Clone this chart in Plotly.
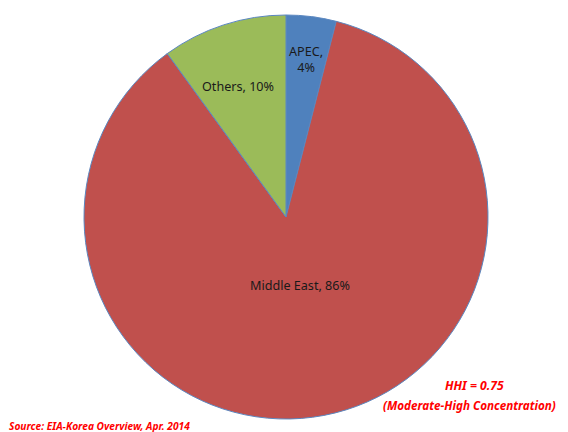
import plotly.graph_objects as go

labels = ["APEC", "Middle East", "Others"]
values = [4, 86, 10]
colors = ["#4F81BD", "#C0504D", "#9BBB59"]

W, H = 568, 432
OFF = 8  # page body margin offset
cx, cy, r = 286 - OFF, 217 - OFF, 202
# data label centers in page pixels
label_px = [(306, 60), (300, 285), (238, 87)]


def px(x, y):
    return (x - OFF) / W, 1 - (y - OFF) / H


fig = go.Figure(go.Pie(
    labels=labels, values=values, sort=False, direction="clockwise", rotation=0,
    marker=dict(colors=colors, line=dict(color="#5B87C0", width=1)),
    textinfo="none", hoverinfo="label+percent", showlegend=False,
    domain=dict(x=[(cx - r) / W, (cx + r) / W], y=[(H - cy - r) / H, (H - cy + r) / H]),
))

ff = "Noto Sans, Liberation Sans, sans-serif"
font = dict(family=ff, size=12.6, color="#1a1a1a")
for lab, val, (x, y) in zip(labels, values, label_px):
    txt = f"{lab},<br>{val}%" if lab == "APEC" else f"{lab}, {val}%"
    ax, ay = px(x, y)
    fig.add_annotation(x=ax, y=ay, xref="paper", yref="paper", text=txt,
                       xanchor="center", yanchor="middle",
                       showarrow=False, font=font, align="center")

for txt, y, s, xc in [("HHI = 0.75", 385, 12.2, 474), ("(Moderate-High Concentration)", 405, 11.7, 469)]:
    ax, ay = px(xc, y)
    fig.add_annotation(x=ax, y=ay, xref="paper", yref="paper",
                       text=f"<b><i>{txt}</i></b>", xanchor="center", yanchor="middle",
                       showarrow=False, font=dict(family=ff, size=s, color="#FF0000"),
                       align="center")
ax, ay = px(7, 426)
fig.add_annotation(x=ax, y=ay, xref="paper", yref="paper", xanchor="left", yanchor="middle",
                   text="<b><i>Source: EIA-Korea Overview, Apr. 2014</i></b>",
                   showarrow=False, font=dict(family=ff, size=10.2, color="#FF0000"))

fig.update_layout(width=W, height=H, margin=dict(l=0, r=0, t=0, b=0),
                  paper_bgcolor="white", plot_bgcolor="white")
fig.write_html("out.html")
